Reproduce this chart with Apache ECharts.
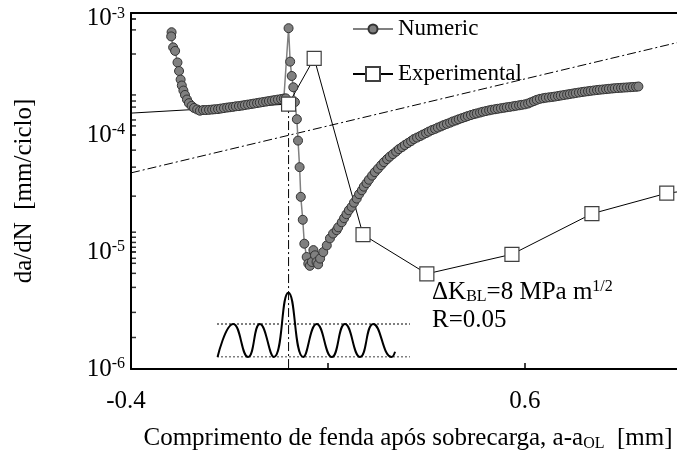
<!DOCTYPE html>
<html><head><meta charset="utf-8">
<script src="https://cdn.jsdelivr.net/npm/echarts@6/dist/echarts.min.js"></script>
<style>html,body{margin:0;padding:0;background:#fff}#c{width:677px;height:450px}</style>
</head><body><div id="c"></div>
<script>
// ---------- data ----------
const numX = [-0.297,-0.298,-0.293,-0.288,-0.282,-0.278,-0.274,-0.271,-0.267,-0.263,-0.258,-0.253,-0.246,-0.240,-0.232,-0.225,
 -0.217,-0.210,-0.202,-0.194,-0.187,-0.179,-0.172,-0.164,-0.156,-0.149,-0.141,-0.134,-0.126,-0.118,-0.111,-0.103,-0.095,-0.088,-0.080,-0.073,-0.065,-0.057,-0.050,-0.042,-0.035,-0.027,-0.019,-0.012,-0.007,
 0.000,0.004,0.008,0.012,0.016,0.021,0.024,0.028,0.031,0.036,0.040,
 0.046,0.050,0.054,0.059,0.063,0.067,0.071,0.075,0.080,0.088,0.097,0.105,0.113,0.122,0.126,0.135,0.141,0.147,0.153,0.160,0.166,0.173,0.179,0.186,0.191,0.198,0.204,0.212,0.219,0.227,0.235,0.242,0.250,0.257,0.265,0.273,0.280,0.288,0.295,0.303,0.311,0.318,0.326,0.334,
 0.341,0.349,0.356,0.364,0.372,0.379,0.387,0.394,0.402,0.410,0.417,0.425,0.432,0.440,0.448,0.455,0.463,0.471,0.478,0.486,0.493,0.501,0.509,0.516,0.524,0.531,0.539,0.547,0.554,0.562,0.570,0.577,0.585,0.592,0.600,
 0.608,0.615,0.623,0.630,0.638,0.646,0.653,0.661,0.669,0.676,0.684,0.691,0.699,0.707,0.714,0.722,0.729,0.737,0.745,0.752,0.760,0.767,0.775,0.783,0.790,0.798,0.806,0.813,0.821,0.828,0.836,0.844,0.851,0.859,0.867,0.874,0.882,0.888];
const numY = [7.60e-4,7.00e-4,5.64e-4,5.26e-4,4.19e-4,3.54e-4,2.99e-4,2.66e-4,2.41e-4,2.21e-4,2.02e-4,1.88e-4,1.78e-4,1.71e-4,1.66e-4,1.62e-4,
 1.641e-4,1.641e-4,1.648e-4,1.657e-4,1.667e-4,1.673e-4,1.690e-4,1.706e-4,1.723e-4,1.734e-4,1.748e-4,1.766e-4,1.775e-4,1.792e-4,1.810e-4,1.828e-4,1.846e-4,1.864e-4,1.883e-4,1.901e-4,1.920e-4,1.939e-4,1.959e-4,1.978e-4,1.998e-4,2.018e-4,2.038e-4,2.058e-4,2.066e-4,
 8.23e-4,4.26e-4,3.21e-4,2.57e-4,1.92e-4,1.37e-4,8.99e-5,5.33e-5,2.97e-5,1.89e-5,1.18e-5,
 9.08e-6,7.97e-6,7.63e-6,8.23e-6,1.04e-5,9.39e-6,8.23e-6,7.86e-6,8.80e-6,1.00e-5,1.14e-5,1.31e-5,1.44e-5,1.54e-5,1.63e-5,1.80e-5,1.95e-5,2.11e-5,2.28e-5,2.44e-5,2.65e-5,2.87e-5,3.13e-5,3.38e-5,3.63e-5,3.89e-5,4.16e-5,4.51e-5,4.83e-5,5.17e-5,5.54e-5,5.88e-5,6.24e-5,6.56e-5,6.89e-5,7.24e-5,7.60e-5,7.91e-5,8.23e-5,8.56e-5,8.90e-5,9.26e-5,9.54e-5,9.82e-5,
 1.012e-4,1.042e-4,1.073e-4,1.106e-4,1.132e-4,1.162e-4,1.190e-4,1.221e-4,1.250e-4,1.280e-4,1.311e-4,1.339e-4,1.369e-4,1.399e-4,1.429e-4,1.458e-4,1.487e-4,1.516e-4,1.537e-4,1.562e-4,1.587e-4,1.609e-4,1.631e-4,1.651e-4,1.667e-4,1.683e-4,1.700e-4,1.717e-4,1.734e-4,1.748e-4,1.766e-4,1.783e-4,1.801e-4,1.818e-4,1.836e-4,
 1.866e-4,1.910e-4,1.959e-4,2.006e-4,2.046e-4,2.070e-4,2.091e-4,2.107e-4,2.124e-4,2.141e-4,2.163e-4,2.184e-4,2.206e-4,2.228e-4,2.250e-4,2.272e-4,2.295e-4,2.317e-4,2.340e-4,2.359e-4,2.377e-4,2.396e-4,2.415e-4,2.434e-4,2.449e-4,2.463e-4,2.478e-4,2.493e-4,2.508e-4,2.523e-4,2.533e-4,2.543e-4,2.553e-4,2.563e-4,2.573e-4,2.584e-4,2.594e-4,2.609e-4];

const expX = [-0.5, 0.0, 0.065, 0.189, 0.351, 0.567, 0.770, 0.960, 1.2];
const expY = [1.478e-4, 1.846e-4, 4.55e-4, 1.41e-5, 6.52e-6, 9.58e-6, 2.13e-5, 3.19e-5, 4.0e-5];

const refLineX = [-0.4, 0.986];
const refLineY = [4.76e-5, 6.19e-4];
const olLineX = [0, 0];
const olLineY = [1.846e-4, 1e-6];

// inset load history (cycles, relative load)
const waveT = [-0.05, 0.51, 1.04, 1.46, 1.96, 2.48, 3.01, 3.49, 4.03, 4.50, 5.04, 5.51, 6.17, 6.29];
const waveA = [0, 1, 0, 1, 0, 1.95, 0, 1, 0, 1, 0, 1, 0, 0.16];
const bandT = [-0.07, 6.823];
const bandLevels = [0, 1];

const xMin = -0.4, xMax = 0.986;
const xTickValues = [-0.4, 0.1, 0.6];
const xLabelValues = [-0.4, 0.6];
const xTickLabels = ['-0.4', '0.6'];
const yLabelValues = [1e-6, 1e-5, 1e-4, 1e-3];
const yTickExps = ['-6', '-5', '-4', '-3'];
const yMinorTicks = [7.96e-4, 4.95e-4, 2.21e-4, 1.96e-4, 1.74e-4, 1.35e-4, 1.20e-4,
  7.45e-5, 5.33e-5, 3.01e-5, 1.48e-5, 1.34e-5, 1.21e-5, 1.10e-5,
  8.85e-6, 8.02e-6, 6.58e-6, 4.99e-6, 3.05e-6, 1.86e-6];

// ---------- chart ----------
const F = 'Liberation Serif';
const zip = (xs, ys) => xs.map((x, i) => [x, ys[i]]);
const chart = echarts.init(document.getElementById('c'));
const dashDot = [9, 3, 2, 3];

chart.setOption({
  animation: false,
  backgroundColor: '#fff',
  grid: [
    {left: 131, top: 13, right: 0, bottom: 81, outerBoundsMode: 'none', containLabel: false},
    {left: 217, top: 291, width: 193, height: 66, outerBoundsMode: 'none', containLabel: false}
  ],
  xAxis: [
    {type: 'value', gridIndex: 0, min: xMin, max: xMax, position: 'bottom',
     axisLine: {onZero: false, lineStyle: {color: '#000', width: 2}},
     axisTick: {show: true, inside: true, length: 6, lineStyle: {color: '#000', width: 1.5}, customValues: xTickValues},
     axisLabel: {show: true, customValues: xLabelValues, margin: 20, color: '#000', fontFamily: F, fontSize: 25,
       formatter: v => {
         const i = xLabelValues.findIndex(t => Math.abs(t - v) < 1e-6);
         if (i < 0) return '';
         return v < 0 ? '{n|' + xTickLabels[i] + '}' : xTickLabels[i];
       },
       rich: {n: {fontFamily: F, fontSize: 25, color: '#000', padding: [0, 10, 0, 0]}}},
     splitLine: {show: false},
     name: '{a|Comprimento de fenda após sobrecarga, a-a}{s|OL}{a|  [mm]}',
     nameLocation: 'middle', nameGap: 55, nameMoveOverlap: false,
     nameTextStyle: {padding: [0, 0, 0, 8], rich: {
       a: {fontFamily: F, fontSize: 25, color: '#000', lineHeight: 28},
       s: {fontFamily: F, fontSize: 16, color: '#000', lineHeight: 16, verticalAlign: 'bottom'}}}
    },
    {type: 'value', gridIndex: 0, min: xMin, max: xMax, position: 'top',
     axisLine: {onZero: false, lineStyle: {color: '#000', width: 2}}, axisTick: {show: false}, axisLabel: {show: false}, splitLine: {show: false}},
    {type: 'value', gridIndex: 1, min: bandT[0], max: bandT[1], show: false}
  ],
  yAxis: [
    {type: 'log', gridIndex: 0, min: 1e-6, max: 1.11e-3, logBase: 10,
     axisLine: {show: true, onZero: false, lineStyle: {color: '#000', width: 2}},
     axisTick: {show: true, inside: true, length: 5, lineStyle: {color: '#000', width: 1.5}},
     axisLabel: {show: true, customValues: yLabelValues, margin: 6,
       formatter: v => {
         let best = 0, bd = 1e9;
         yLabelValues.forEach((t, i) => { const d = Math.abs(Math.log10(t) - Math.log10(v)); if (d < bd) { bd = d; best = i; } });
         return '{b|10}{s|' + yTickExps[best] + '}';
       },
       rich: {
         b: {fontFamily: F, fontSize: 25, color: '#000', lineHeight: 26},
         s: {fontFamily: F, fontSize: 16, color: '#000', lineHeight: 16, verticalAlign: 'top'}
       }},
     splitLine: {show: false}, minorTick: {show: false},
     name: 'da/dN  [mm/ciclo]', nameLocation: 'middle', nameGap: 94, nameMoveOverlap: false,
     nameTextStyle: {fontFamily: F, fontSize: 25, color: '#000'}
    },
    {type: 'value', gridIndex: 1, min: 0, max: 2, show: false}
  ],
  legend: [
    {data: ['Numeric'], left: 347, top: 12.5, itemWidth: 40, itemHeight: 11.25, selectedMode: false,
     textStyle: {fontFamily: F, fontSize: 23, color: '#000'}},
    {data: ['Experimental'], left: 347, top: 57.5, itemWidth: 40, itemHeight: 17.5, selectedMode: false,
     textStyle: {fontFamily: F, fontSize: 23, color: '#000'}}
  ],
  graphic: [
    {type: 'text', left: 432, top: 279, silent: true,
     style: {text: '{a|ΔK}{b|BL}{a|=8 MPa m}{c|1/2}', fill: '#000',
       rich: {
         a: {fontFamily: F, fontSize: 25, fill: '#000', lineHeight: 26},
         b: {fontFamily: F, fontSize: 16, fill: '#000', lineHeight: 16, verticalAlign: 'bottom'},
         c: {fontFamily: F, fontSize: 16, fill: '#000', lineHeight: 16, verticalAlign: 'top'}
       }}},
    {type: 'text', left: 432, top: 308, silent: true,
     style: {text: 'R=0.05', fill: '#000', font: '25px "Liberation Serif"'}}
  ],
  series: [
    {name: 'ref', type: 'line', xAxisIndex: 0, yAxisIndex: 0, data: zip(refLineX, refLineY), symbol: 'none', silent: true,
     lineStyle: {color: '#000', width: 1, type: dashDot}},
    {name: 'ol', type: 'line', xAxisIndex: 0, yAxisIndex: 0, data: zip(olLineX, olLineY), symbol: 'none', silent: true,
     lineStyle: {color: '#000', width: 1, type: dashDot}},
    {name: 'Numeric', type: 'line', xAxisIndex: 0, yAxisIndex: 0, data: zip(numX, numY),
     symbol: 'circle', symbolSize: 9, showAllSymbol: true,
     itemStyle: {color: '#808080', borderColor: '#333', borderWidth: 1},
     lineStyle: {color: '#808080', width: 1.5}},
    {name: 'Experimental', type: 'line', xAxisIndex: 0, yAxisIndex: 0, data: zip(expX, expY),
     symbol: 'rect', symbolSize: 14,
     itemStyle: {color: '#fff', borderColor: '#404040', borderWidth: 1.2},
     lineStyle: {color: '#000', width: 1}},
    {name: 'bandLow', type: 'line', xAxisIndex: 2, yAxisIndex: 1, data: zip(bandT, [bandLevels[0], bandLevels[0]]), symbol: 'none', silent: true,
     lineStyle: {color: '#000', width: 1, type: [2, 2]}},
    {name: 'bandHigh', type: 'line', xAxisIndex: 2, yAxisIndex: 1, data: zip(bandT, [bandLevels[1], bandLevels[1]]), symbol: 'none', silent: true,
     lineStyle: {color: '#000', width: 1, type: [2, 2]}},
    {name: 'wave', type: 'line', xAxisIndex: 2, yAxisIndex: 1, data: zip(waveT, waveA), symbol: 'none', smooth: 0.5, clip: false, silent: true,
     lineStyle: {color: '#000', width: 2}},
    {name: 'yMinorTicks', type: 'scatter', xAxisIndex: 0, yAxisIndex: 0, data: yMinorTicks.map(v => [xMin, v]),
     symbol: 'rect', symbolSize: [5, 1.5], symbolOffset: [2.5, 0], clip: false, silent: true, z: 5,
     itemStyle: {color: '#000'}}
  ]
});
</script></body></html>
